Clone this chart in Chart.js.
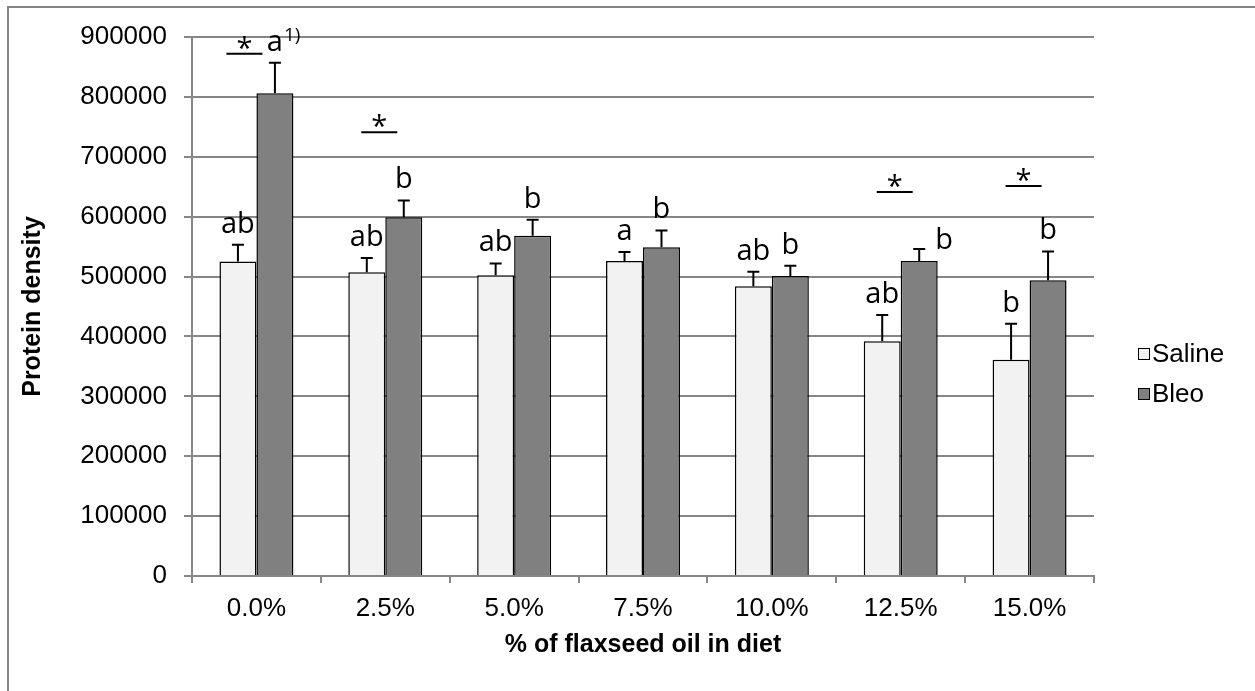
<!DOCTYPE html>
<html>
<head>
<meta charset="utf-8">
<script src="https://cdn.jsdelivr.net/npm/chart.js@4.4.0/dist/chart.umd.min.js"></script>
<style>
  html, body { margin: 0; padding: 0; background: #fff; }
  #wrap { width: 1255px; height: 691px; position: relative; }
</style>
</head>
<body>
<div id="wrap"><canvas id="chart" width="1255" height="691"></canvas></div>
<script>
// data
const categories = ['0.0%', '2.5%', '5.0%', '7.5%', '10.0%', '12.5%', '15.0%'];
const salineValues = [525000, 507000, 502000, 526000, 484000, 392000, 361000];
const salineErrors = [28000, 24000, 20000, 15000, 24000, 44000, 60000];
const bleoValues = [806000, 599000, 568000, 549000, 501000, 526000, 494000];
const bleoErrors = [51000, 28000, 27000, 28000, 17000, 20000, 48000];
const salineLetters = ['ab', 'ab', 'ab', 'a', 'ab', 'ab', 'b'];
const bleoLetters = ['a', 'b', 'b', 'b', 'b', 'b', 'b'];
const sigLevels = [872000, 741000, null, null, null, 641000, 651000];
const yTicks = [0, 100000, 200000, 300000, 400000, 500000, 600000, 700000, 800000, 900000];

const GRAY = '#868686';
const tickFont = { family: '"Liberation Sans", Arial, sans-serif', size: 26 };
const titleFont = { family: '"Liberation Sans", Arial, sans-serif', size: 25, weight: 'bold' };
const letterFont = '29px "Open Sans", sans-serif';

const frame = {
  id: 'frame',
  beforeDraw(chart) {
    const ctx = chart.ctx;
    ctx.save();
    ctx.fillStyle = '#fff';
    ctx.fillRect(0, 0, chart.width, chart.height);
    ctx.strokeStyle = GRAY;
    ctx.lineWidth = 2;
    ctx.beginPath();
    ctx.moveTo(8, chart.height);
    ctx.lineTo(8, 7);
    ctx.lineTo(chart.width, 7);
    ctx.stroke();
    ctx.restore();
  }
};

const annotations = {
  id: 'annotations',
  afterDatasetsDraw(chart) {
    const ctx = chart.ctx;
    const y = chart.scales.y;
    const x = chart.scales.x;
    const errs = [salineErrors, bleoErrors];
    const vals = [salineValues, bleoValues];
    const letters = [salineLetters, bleoLetters];
    ctx.save();
    ctx.strokeStyle = '#000';
    ctx.fillStyle = '#000';
    ctx.lineWidth = 2;
    for (let i = 0; i < 2; i++) {
      const meta = chart.getDatasetMeta(i);
      meta.data.forEach((bar, j) => {
        const top = y.getPixelForValue(vals[i][j] + errs[i][j]);
        ctx.beginPath();
        ctx.moveTo(bar.x, bar.y);
        ctx.lineTo(bar.x, top);
        ctx.moveTo(bar.x - 6, top);
        ctx.lineTo(bar.x + 6, top);
        ctx.stroke();

        let lx = bar.x, ly = top - 12;
        // 12.5% Bleo letter sits beside its error bar
        if (i === 1 && j === 5) { lx += 25; ly += 12; }
        ctx.font = letterFont;
        ctx.textAlign = 'center';
        ctx.textBaseline = 'alphabetic';
        ctx.fillText(letters[i][j], lx, ly);
        if (i === 1 && j === 0) {
          const w = ctx.measureText(letters[i][j]).width;
          ctx.font = '19px "Open Sans", sans-serif';
          ctx.textAlign = 'left';
          ctx.fillText('1)', lx + w / 2 + 1, ly - 10);
        }
      });
    }
    // significance marks
    sigLevels.forEach((lvl, j) => {
      if (lvl === null) return;
      const cx = x.getPixelForValue(j) - (j === 0 ? 12 : 6);
      const ly = y.getPixelForValue(lvl);
      ctx.lineWidth = 2;
      ctx.beginPath();
      ctx.moveTo(cx - 18, ly);
      ctx.lineTo(cx + 18, ly);
      ctx.stroke();
      ctx.font = letterFont;
      ctx.textAlign = 'center';
      ctx.fillText('*', cx, ly + 4);
    });
    ctx.restore();
  }
};

const legendBoxes = {
  id: 'legendBoxes',
  afterDraw(chart) {
    const ctx = chart.ctx;
    ctx.save();
    ctx.font = '26px "Liberation Sans", Arial, sans-serif';
    ctx.textBaseline = 'middle';
    ctx.textAlign = 'left';
    const rows = [354, 394];
    chart.data.datasets.forEach((ds, i) => {
      const cy = rows[i];
      ctx.fillStyle = ds.backgroundColor;
      ctx.fillRect(1138, cy - 6, 12, 12);
      ctx.strokeStyle = '#000';
      ctx.lineWidth = 1;
      ctx.strokeRect(1138.5, cy - 5.5, 11, 11);
      ctx.fillStyle = '#000';
      ctx.fillText(ds.label, 1152, cy + 1);
    });
    ctx.restore();
  }
};

new Chart(document.getElementById('chart'), {
  type: 'bar',
  data: {
    labels: categories,
    datasets: [
      { label: 'Saline', data: salineValues, backgroundColor: '#f2f2f2', borderColor: '#000', borderWidth: 1.5 },
      { label: 'Bleo', data: bleoValues, backgroundColor: '#808080', borderColor: '#000', borderWidth: 1.5 }
    ]
  },
  options: {
    responsive: false,
    animation: false,
    layout: { padding: { top: 37, right: 161, bottom: 0, left: 0 } },
    datasets: { bar: { barPercentage: 1.0, categoryPercentage: 0.574 } },
    plugins: {
      legend: { display: false },
      tooltip: { enabled: false }
    },
    scales: {
      x: {
        grid: { drawOnChartArea: false, color: GRAY, lineWidth: 2, tickLength: 7 },
        border: { color: GRAY, width: 2 },
        ticks: { font: tickFont, color: '#000', padding: 10 },
        title: { display: true, text: '% of flaxseed oil in diet', font: titleFont, color: '#000', padding: { top: 0, bottom: 31 } },
        afterFit(scale) { scale.height = 115; }
      },
      y: {
        min: 0,
        max: 900000,
        afterBuildTicks(scale) { scale.ticks = yTicks.map(v => ({ value: v })); },
        grid: { color: GRAY, lineWidth: 2, tickLength: 8 },
        border: { color: GRAY, width: 2 },
        ticks: { font: tickFont, color: '#000', padding: 17, callback: v => String(v) },
        title: { display: true, text: 'Protein density', font: titleFont, color: '#000', padding: { top: 18, bottom: 0 } },
        afterFit(scale) { scale.width = 192; }
      }
    }
  },
  plugins: [frame, annotations, legendBoxes]
});
</script>
</body>
</html>
